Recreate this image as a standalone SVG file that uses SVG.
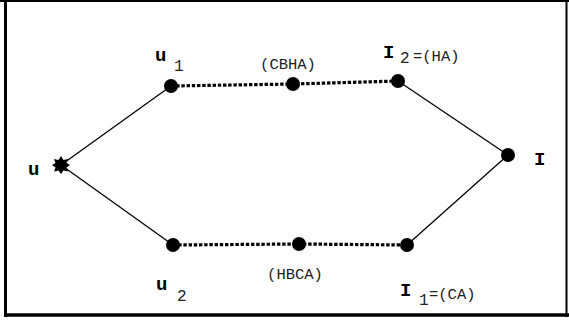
<svg xmlns="http://www.w3.org/2000/svg" width="569" height="322" viewBox="0 0 569 322">
  <style>
    .frame { fill: none; stroke: #000; }
    .solid { stroke: #000; stroke-width: 1.3; fill: none; }
    .dotted { stroke: #000; stroke-width: 3.2; stroke-dasharray: 3.4 1.8; fill: none; }
    .dot { fill: #000; }
    .lbl { font-family: "Courier New", "Liberation Mono", monospace; fill: #000; }
    .big { font-size: 19px; font-weight: bold; }
    .sub { font-size: 16px; fill: #222; }
    .tag { font-size: 15.5px; fill: #222; }
  </style>

  <!-- frame -->
  <g id="frame">
    <line class="frame" x1="0" y1="1" x2="569" y2="1" stroke-width="2" stroke="#333"/>
    <line class="frame" x1="5.5" y1="0" x2="5.5" y2="317" stroke-width="3"/>
    <line class="frame" x1="4" y1="315" x2="569" y2="315" stroke-width="3.5"/>
    <line class="frame" x1="566.5" y1="0" x2="566.5" y2="317" stroke-width="2"/>
  </g>

  <!-- connectors -->
  <g id="edges">
    <line class="solid" x1="61" y1="165" x2="171" y2="86"/>
    <line class="solid" x1="61" y1="165" x2="173" y2="245"/>
    <line class="solid" x1="398" y1="81" x2="508" y2="155"/>
    <line class="solid" x1="407" y1="245" x2="508" y2="155"/>
    <polyline class="dotted" points="171,86 293,84 398,81"/>
    <polyline class="dotted" points="173,245 299,244 407,245"/>
  </g>

  <g id="node-u">
    <polygon class="dot" points="61,156 63.5,160 68,159 66.5,163 70,165 66.5,167.5 68,171.5 63.5,170.5 61,174 58.5,170.5 54,171.5 55.5,167.5 52,165 55.5,163 54,159 58.5,160"/>
    <text class="lbl big" x="28" y="175">u</text>
  </g>

  <g id="node-u1">
    <circle class="dot" cx="171" cy="86" r="7"/>
    <text class="lbl big" x="155" y="61">u</text>
    <text class="lbl sub" x="174" y="71">1</text>
  </g>

  <g id="node-cbha">
    <circle class="dot" cx="293" cy="84" r="7"/>
    <text class="lbl tag" x="288" y="69" text-anchor="middle">(CBHA)</text>
  </g>

  <g id="node-i2">
    <circle class="dot" cx="398" cy="81" r="7"/>
    <text class="lbl big" x="383" y="58">I</text>
    <text class="lbl sub" x="400" y="63">2</text>
    <text class="lbl tag" x="413" y="61">=(HA)</text>
  </g>

  <g id="node-i">
    <circle class="dot" cx="508" cy="155" r="7"/>
    <text class="lbl big" x="534" y="165">I</text>
  </g>

  <g id="node-u2">
    <circle class="dot" cx="173" cy="245" r="7"/>
    <text class="lbl big" x="156" y="290">u</text>
    <text class="lbl sub" x="177" y="301">2</text>
  </g>

  <g id="node-hbca">
    <circle class="dot" cx="299" cy="244" r="7"/>
    <text class="lbl tag" x="295" y="279" text-anchor="middle">(HBCA)</text>
  </g>

  <g id="node-i1">
    <circle class="dot" cx="407" cy="245" r="7"/>
    <text class="lbl big" x="400" y="296">I</text>
    <text class="lbl sub" x="419" y="305">1</text>
    <text class="lbl tag" x="429" y="299">=(CA)</text>
  </g>
</svg>
